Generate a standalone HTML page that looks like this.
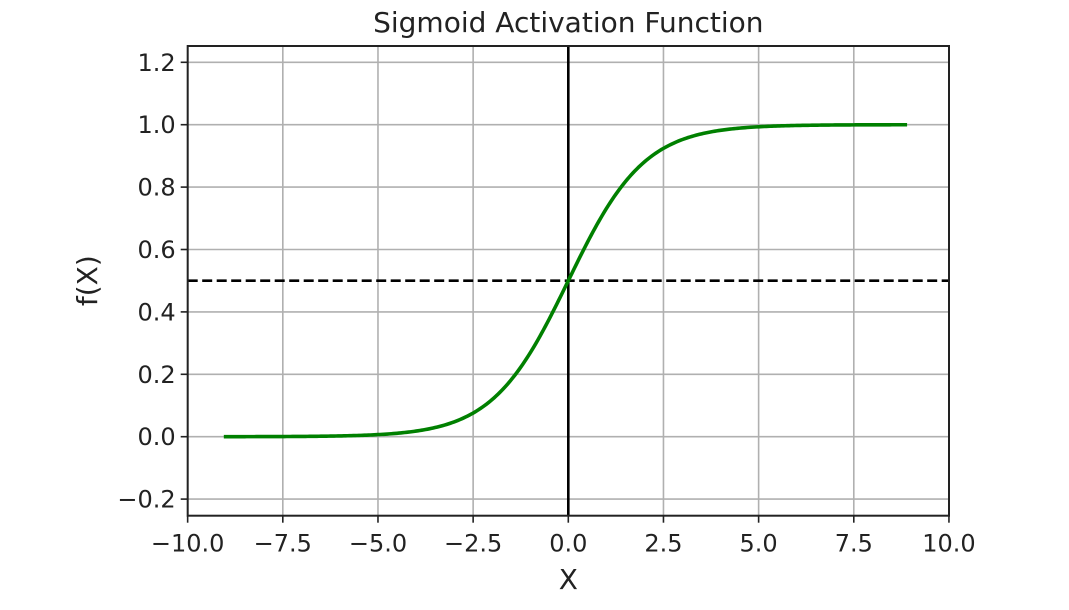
<!DOCTYPE html>
<html><head><meta charset="utf-8"><style>
body{margin:0;background:#fff;}
svg text{font-family:"DejaVu Sans","Liberation Sans",sans-serif;fill:#222;}
</style></head><body>
<svg id="s" width="1069" height="605" viewBox="0 0 1069 605" xmlns="http://www.w3.org/2000/svg"></svg>
<script>
const L=187.7,R=949,T=46,B=515.7,x0=568.3,sx=(R-L)/20,y0=436.7,sy=312;
const X=v=>x0+v*sx, Y=v=>y0-v*sy;
let h='';
for(let v=-10;v<=10.001;v+=2.5){const x=X(v);h+=`<line x1="${x}" y1="${T}" x2="${x}" y2="${B}" stroke="#b0b0b0" stroke-width="1.6"/>`;
h+=`<line x1="${x}" y1="${B}" x2="${x}" y2="${B+7}" stroke="#222" stroke-width="1.6"/>`;
const lab=(v<0?'\u2212':'')+Math.abs(v).toFixed(1);
h+=`<text x="${x}" y="${B+36}" font-size="24" text-anchor="middle">${lab}</text>`;}
for(let i=-1;i<=6;i++){const v=i*0.2,y=Y(v);h+=`<line x1="${L}" y1="${y}" x2="${R}" y2="${y}" stroke="#b0b0b0" stroke-width="1.6"/>`;
h+=`<line x1="${L-7}" y1="${y}" x2="${L}" y2="${y}" stroke="#222" stroke-width="1.6"/>`;
const lab=(v<0?'\u2212':'')+Math.abs(v).toFixed(1);
h+=`<text x="${L-12}" y="${y+8.5}" font-size="24" text-anchor="end">${lab}</text>`;}
h+=`<line x1="${L}" y1="${Y(0.5)}" x2="${R}" y2="${Y(0.5)}" stroke="#000" stroke-width="2.6" stroke-dasharray="10,4.5"/>`;
h+=`<line x1="${x0}" y1="${T}" x2="${x0}" y2="${B}" stroke="#000" stroke-width="2.6"/>`;
let p='';for(let v=-9.05;v<=8.9;v+=0.05){p+=(p?'L':'M')+X(v).toFixed(2)+','+Y(1/(1+Math.exp(-v))).toFixed(2);}
h+=`<path d="${p}" fill="none" stroke="#008000" stroke-width="3.6"/>`;
h+=`<rect x="${L}" y="${T}" width="${R-L}" height="${B-T}" fill="none" stroke="#222" stroke-width="2"/>`;
h+=`<text x="${x0}" y="32" font-size="28" text-anchor="middle">Sigmoid Activation Function</text>`;
h+=`<text x="${x0}" y="589" font-size="28" text-anchor="middle">X</text>`;
h+=`<text transform="translate(97,${Y(0.5)}) rotate(-90)" font-size="28" text-anchor="middle">f(X)</text>`;
document.getElementById('s').innerHTML=h;
</script>
</body></html>
